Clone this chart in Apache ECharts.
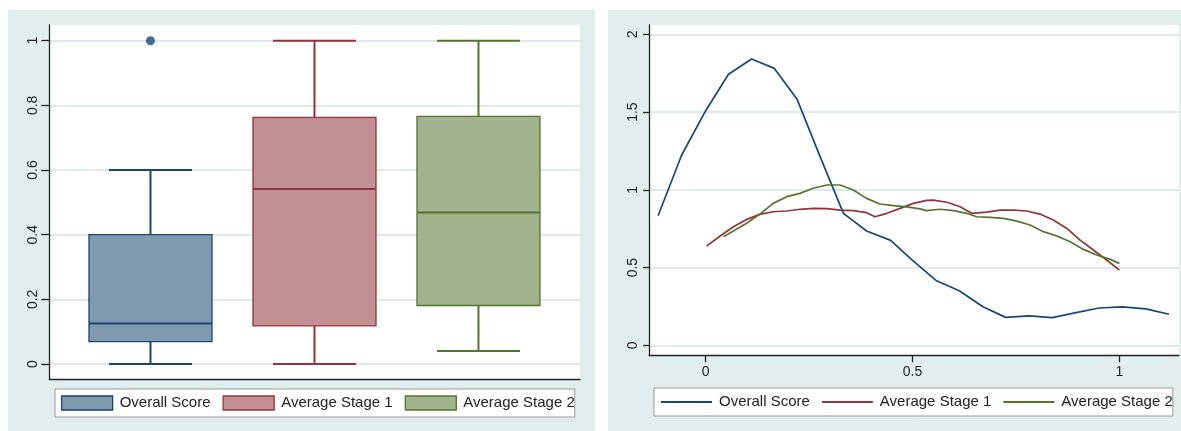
<!DOCTYPE html>
<html>
<head>
<meta charset="utf-8">
<script src="https://cdn.jsdelivr.net/npm/echarts@6/dist/echarts.min.js"></script>
<style>
  html, body { margin: 0; padding: 0; background: #fff; }
  .panel { position: absolute; background: #e2eeee; }
  #box_chart { left: 8px; top: 10px; width: 587px; height: 421px; }
  #dens_chart { left: 608px; top: 10px; width: 573px; height: 421px; }
</style>
</head>
<body>
<div class="panel" id="box_chart"></div>
<div class="panel" id="dens_chart"></div>
<script>
// box plot values
const boxNames = ['Overall Score', 'Average Stage 1', 'Average Stage 2']
const boxPos = [1, 2, 3]
const boxMin = [0, 0, 0.04]
const boxQ1 = [0.069, 0.118, 0.181]
const boxMed = [0.125, 0.541, 0.469]
const boxQ3 = [0.4, 0.763, 0.766]
const boxMax = [0.6, 1, 1]
const outlierPos = [1]
const outlierVal = [1]

// kernel density curves
const overallX = [-0.115, -0.058, 0, 0.055, 0.111, 0.166, 0.221, 0.277, 0.333, 0.389, 0.447, 0.5, 0.558, 0.613, 0.67, 0.725, 0.782, 0.838, 0.895, 0.951, 1.007, 1.064, 1.12]
const overallY = [0.833, 1.224, 1.509, 1.743, 1.841, 1.781, 1.582, 1.21, 0.849, 0.735, 0.675, 0.546, 0.415, 0.351, 0.248, 0.18, 0.19, 0.178, 0.21, 0.24, 0.248, 0.235, 0.2]
const stage1X = [0.002, 0.035, 0.067, 0.099, 0.131, 0.163, 0.196, 0.228, 0.26, 0.293, 0.325, 0.357, 0.389, 0.409, 0.438, 0.47, 0.502, 0.534, 0.55, 0.583, 0.615, 0.643, 0.679, 0.712, 0.744, 0.776, 0.808, 0.84, 0.873, 0.905, 0.937, 0.969, 1.0]
const stage1Y = [0.638, 0.703, 0.763, 0.81, 0.842, 0.859, 0.864, 0.875, 0.881, 0.879, 0.87, 0.866, 0.853, 0.827, 0.849, 0.881, 0.913, 0.932, 0.934, 0.92, 0.891, 0.849, 0.857, 0.87, 0.87, 0.864, 0.844, 0.806, 0.752, 0.677, 0.613, 0.549, 0.484]
const stage2X = [0.043, 0.067, 0.099, 0.131, 0.163, 0.196, 0.228, 0.26, 0.293, 0.325, 0.357, 0.389, 0.421, 0.454, 0.486, 0.518, 0.534, 0.566, 0.599, 0.631, 0.655, 0.687, 0.72, 0.752, 0.784, 0.816, 0.849, 0.881, 0.913, 0.945, 0.978, 1.0]
const stage2Y = [0.698, 0.735, 0.785, 0.844, 0.913, 0.956, 0.977, 1.01, 1.031, 1.031, 0.999, 0.945, 0.909, 0.898, 0.891, 0.878, 0.866, 0.875, 0.866, 0.849, 0.827, 0.823, 0.817, 0.799, 0.774, 0.731, 0.703, 0.666, 0.617, 0.581, 0.553, 0.527]

const boxTicks = [0, 0.2, 0.4, 0.6, 0.8, 1]
const densYTicks = [0, 0.5, 1, 1.5, 2]
const densXTicks = [0, 0.5, 1]

const lineColors = ['#1a476f', '#90353b', '#55752f']
const fillColors = ['#829ab0', '#c29093', '#a1b38c']
const font = 'Liberation Sans, Arial, sans-serif'
const textColor = '#222'
const gridColor = '#dde9ea'
const axisColor = '#222'

const zip = (xs, ys) => xs.map((x, i) => [x, ys[i]])

function boxRender (stroke, fill) {
  return function (params, api) {
    const x = api.value(0)
    const lo = api.coord([x, api.value(1)])
    const q1 = api.coord([x, api.value(2)])
    const md = api.coord([x, api.value(3)])
    const q3 = api.coord([x, api.value(4)])
    const hi = api.coord([x, api.value(5)])
    const cx = lo[0]
    const bw = 123
    const cw = 83
    const seg = (x1, y1, x2, y2, w) => ({
      type: 'line',
      shape: { x1, y1, x2, y2 },
      style: { stroke, lineWidth: w || 2 }
    })
    return {
      type: 'group',
      children: [
        seg(cx, q1[1], cx, lo[1]),
        seg(cx - cw / 2, lo[1], cx + cw / 2, lo[1]),
        seg(cx, q3[1], cx, hi[1]),
        seg(cx - cw / 2, hi[1], cx + cw / 2, hi[1]),
        {
          type: 'rect',
          shape: { x: cx - bw / 2, y: q3[1], width: bw, height: q1[1] - q3[1] },
          style: { fill, stroke, lineWidth: 1.3 }
        },
        seg(cx - bw / 2, md[1], cx + bw / 2, md[1])
      ]
    }
  }
}

const legendBase = {
  padding: [6, 0, 6, 6],
  itemWidth: 51,
  itemHeight: 14,
  itemGap: 12,
  backgroundColor: '#fff',
  borderColor: '#9a9a9a',
  borderWidth: 1,
  textStyle: { fontFamily: font, fontSize: 15, color: textColor, lineHeight: 16, padding: [0, 0, 0, 2] }
}

// left: box plot
const boxChart = echarts.init(document.getElementById('box_chart'))
boxChart.setOption({
  animation: false,
  grid: {
    left: 41.3, top: 15, width: 530.7, height: 354.3,
    show: true, backgroundColor: '#fff', borderWidth: 0
  },
  xAxis: {
    type: 'value',
    min: 0.383,
    max: 3.619,
    axisLine: { show: true, onZero: false, lineStyle: { color: axisColor, width: 1.3 } },
    axisTick: { show: false },
    axisLabel: { show: false },
    splitLine: { show: false }
  },
  yAxis: {
    type: 'value',
    min: -0.0473,
    max: 1.0486,
    axisLine: { show: true, onZero: false, lineStyle: { color: axisColor, width: 1.3 } },
    axisTick: { show: true, length: 8, customValues: boxTicks, lineStyle: { color: axisColor, width: 1.3 } },
    axisLabel: { rotate: 90, margin: 9, customValues: boxTicks, fontFamily: font, fontSize: 14, color: textColor },
    splitLine: { show: true, lineStyle: { color: gridColor, width: 2 } }
  },
  legend: Object.assign({}, legendBase, {
    left: 47,
    top: 379,
    data: boxNames.map((name, i) => ({
      name,
      icon: 'rect',
      itemStyle: { color: fillColors[i], borderColor: lineColors[i], borderWidth: 1.3 }
    }))
  }),
  series: boxNames.map((name, i) => ({
    type: 'custom',
    name,
    itemStyle: { color: fillColors[i], borderColor: lineColors[i] },
    encode: { x: 0, y: [1, 2, 3, 4, 5] },
    renderItem: boxRender(lineColors[i], fillColors[i]),
    data: [[boxPos[i], boxMin[i], boxQ1[i], boxMed[i], boxQ3[i], boxMax[i]]]
  })).concat([{
    type: 'scatter',
    name: 'outliers',
    symbolSize: 9,
    itemStyle: { color: lineColors[0] },
    data: zip(outlierPos, outlierVal)
  }])
})

// right: density lines
const densChart = echarts.init(document.getElementById('dens_chart'))
const densData = [zip(overallX, overallY), zip(stage1X, stage1Y), zip(stage2X, stage2Y)]
densChart.setOption({
  animation: false,
  grid: {
    left: 41, top: 15, width: 530, height: 330.3,
    show: true, backgroundColor: '#fff', borderWidth: 0
  },
  xAxis: {
    type: 'value',
    min: -0.137,
    max: 1.144,
    axisLine: { show: true, onZero: false, lineStyle: { color: axisColor, width: 1.3 } },
    axisTick: { show: true, length: 7, customValues: densXTicks, lineStyle: { color: axisColor, width: 1.3 } },
    axisLabel: { margin: 10, customValues: densXTicks, fontFamily: font, fontSize: 14, color: textColor },
    splitLine: { show: false }
  },
  yAxis: {
    type: 'value',
    min: -0.064,
    max: 2.06,
    axisLine: { show: true, onZero: false, lineStyle: { color: axisColor, width: 1.3 } },
    axisTick: { show: true, length: 6, customValues: densYTicks, lineStyle: { color: axisColor, width: 1.3 } },
    axisLabel: { rotate: 90, margin: 9, customValues: densYTicks, fontFamily: font, fontSize: 14, color: textColor },
    splitLine: { show: true, lineStyle: { color: gridColor, width: 2 } }
  },
  legend: Object.assign({}, legendBase, {
    left: 46,
    top: 378,
    itemGap: 11,
    // hide the circle that line series put on their legend icon
    itemStyle: { opacity: 0 },
    lineStyle: { width: 2 },
    data: boxNames
  }),
  series: boxNames.map((name, i) => ({
    type: 'line',
    name,
    symbol: 'none',
    smooth: false,
    color: lineColors[i],
    lineStyle: { color: lineColors[i], width: 1.7 },
    data: densData[i]
  }))
})
</script>
</body>
</html>
